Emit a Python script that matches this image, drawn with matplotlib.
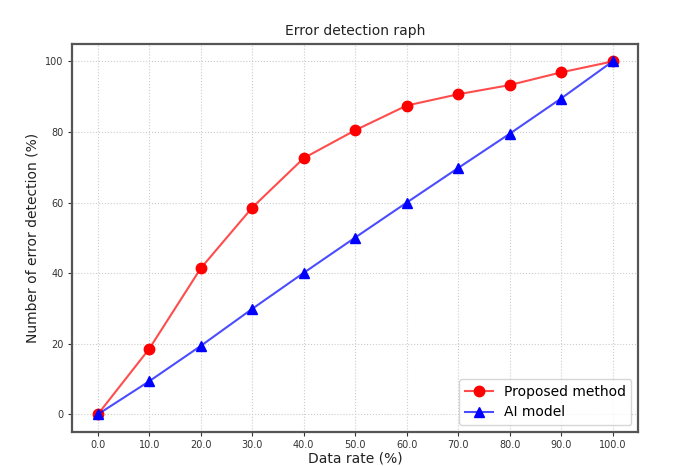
import matplotlib
matplotlib.use("Agg")
import matplotlib.pyplot as plt

data_rate = [0, 10, 20, 30, 40, 50, 60, 70, 80, 90, 100]
proposed = [0, 18.6, 41.4, 58.6, 72.6, 80.5, 87.5, 90.7, 93.3, 96.9, 100]
ai_model = [0, 9.4, 19.4, 29.9, 40.1, 50.1, 60.0, 69.8, 79.5, 89.5, 100]
x_tick_labels = ["0.0", "10.0", "20.0", "30.0", "40.0", "50.0", "60.0", "70.0", "80.0", "90.0", "100.0"]
y_ticks = [0, 20, 40, 60, 80, 100]

fig = plt.figure(figsize=(6.74, 4.66), dpi=100)
ax = fig.add_axes([0.107, 0.073, 0.840, 0.833])

ax.plot(data_rate, proposed, color=(1, 0, 0, 0.7), lw=1.5, marker='o', ms=7.5,
        mfc='red', mec='red', label='Proposed method')
ax.plot(data_rate, ai_model, color=(0, 0, 1, 0.7), lw=1.5, marker='^', ms=7.5,
        mfc='blue', mec='blue', label='AI model')

ax.set_xticks(data_rate)
ax.set_xticklabels(x_tick_labels)
ax.set_yticks(y_ticks)
ax.tick_params(labelsize=7, colors='#333333', length=3, pad=3)
ax.grid(True, linestyle=':', color='#cccccc', lw=0.8)
for s in ax.spines.values():
    s.set_linewidth(1.6)
    s.set_color('#555555')

ax.set_title('Error detection raph', fontsize=10, color='#222222')
ax.set_xlabel('Data rate (%)', fontsize=10, color='#222222', labelpad=0.5)
ax.set_ylabel('Number of error detection (%)', fontsize=10, color='#222222')
ax.legend(loc='lower right', fontsize=10)

fig.savefig('out.png', dpi=100)
